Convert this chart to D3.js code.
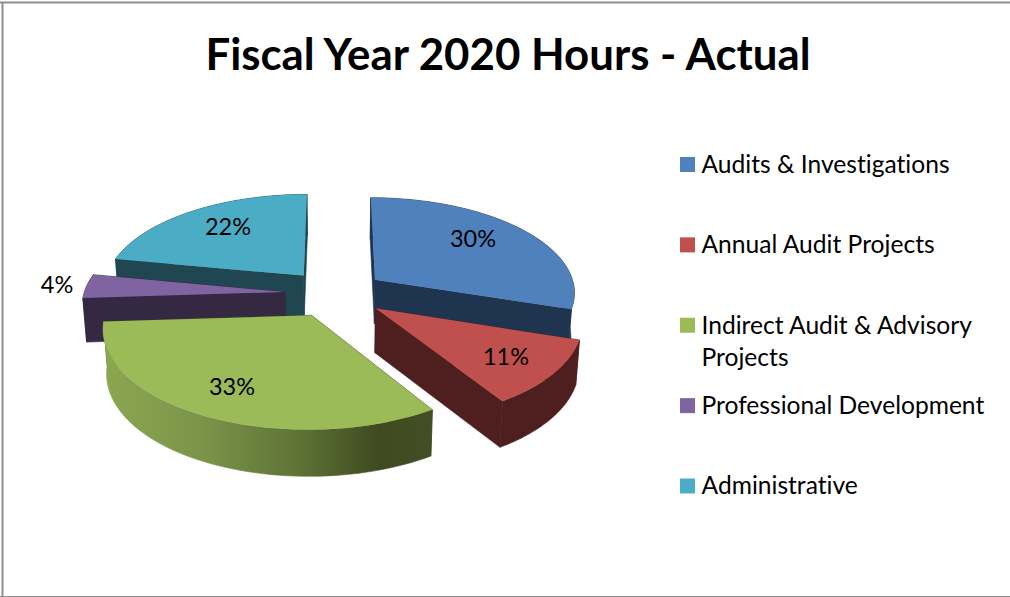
<!DOCTYPE html>
<html>
<head>
<meta charset="utf-8">
<script src="https://cdn.jsdelivr.net/npm/d3@7"></script>
<style>
  html, body { margin: 0; padding: 0; background: #fff; }
  svg { display: block; }
  text { font-family: Lato, "Open Sans", sans-serif; fill: #000; font-variant-ligatures: none; }
</style>
</head>
<body>
<svg id="chart" width="1010" height="597"></svg>
<script>
// Fiscal year hours by activity, exploded 3-D pie
const titleText = "Fiscal Year 2020 Hours - Actual";
const categories = [
  "Audits & Investigations",
  "Annual Audit Projects",
  "Indirect Audit & Advisory Projects",
  "Professional Development",
  "Administrative"
];
const percentages = [30, 11, 33, 4, 22];
const legendLines = [
  ["Audits & Investigations"],
  ["Annual Audit Projects"],
  ["Indirect Audit & Advisory", "Projects"],
  ["Professional Development"],
  ["Administrative"]
];
const topColors = ["#4F81BD", "#C0504D", "#9BBB59", "#8064A2", "#4BACC6"];
const wallColors = ["#1F344F", "#4E1F1E", "#3F4A22", "#352842", "#1F4651"];
// Back slices are painted first so nearer ones overlap them
const paintOrder = [4, 3, 0, 1, 2];
// Percentage label anchors, in page pixels
const labelAnchors = [[473, 239], [506, 357], [232, 387], [57, 285], [228, 227]];

const W = 1010, H = 597;
const svg = d3.select("#chart");

// Perspective model of the pie plane
const cx = 335, cy = 293.5, radiusX = 201, radiusY = 95, perspective = 0.12, explode = 0.25;
const dropScale = 0.985;
const scaleAt = v => 1 / (1 - perspective * v);
const topPoint = (u, v) => [cx + radiusX * u * scaleAt(v), cy + radiusY * v * scaleAt(v)];
const bottomPoint = (u, v) => {
  const [x, y] = topPoint(u, v);
  return [cx + (x - cx) * dropScale, y + 44 + 2.2 * v];
};

const pieLayout = d3.pie().sort(null).value(d => d)(percentages);
const line = d3.line();
const closed = pts => line(pts) + "Z";

// Horizontal shading along the curved wall of the large front slice
const defs = svg.append("defs");
const grad = defs.append("linearGradient")
  .attr("id", "frontWall").attr("gradientUnits", "userSpaceOnUse")
  .attr("x1", 103).attr("x2", 432).attr("y1", 0).attr("y2", 0);
[[0, "#8CA751"], [0.3, "#7A9549"], [0.6, "#5E7236"], [0.84, "#3F4A20"], [1, "#434E24"]]
  .forEach(([o, c]) => grad.append("stop").attr("offset", o).attr("stop-color", c));

// Chart frame: top, left and bottom rules only
svg.append("g").attr("stroke", "#8E8E8E").selectAll("line")
  .data([[0, 2.5, W, 2.5, 2], [2.5, 2, 2.5, H, 2], [0, 596.5, W, 596.5, 1]])
  .join("line")
  .attr("x1", d => d[0]).attr("y1", d => d[1])
  .attr("x2", d => d[2]).attr("y2", d => d[3])
  .attr("stroke-width", d => d[4]);

// Title
svg.append("text")
  .attr("x", 508).attr("y", 70)
  .attr("text-anchor", "middle")
  .attr("font-size", 43.8).attr("font-weight", 700)
  .text(titleText);

// Slices
const slices = svg.append("g");
paintOrder.forEach(i => {
  const d = pieLayout[i];
  const mid = (d.startAngle + d.endAngle) / 2;
  const ou = explode * Math.sin(mid), ov = -explode * Math.cos(mid);
  const steps = d3.range(0, 61).map(k => d.startAngle + (d.endAngle - d.startAngle) * k / 60);
  const rim = steps.map(t => [ou + Math.sin(t), ov - Math.cos(t)]);
  const apex = [ou, ov];
  const toTop = p => topPoint(p[0], p[1]);
  const toBottom = p => bottomPoint(p[0], p[1]);

  const g = slices.append("g");
  [rim[0], rim[rim.length - 1]].forEach(edge => {
    g.append("path")
      .attr("d", closed([toTop(apex), toTop(edge), toBottom(edge), toBottom(apex)]))
      .attr("fill", wallColors[i])
      .attr("stroke", wallColors[i]).attr("stroke-width", 0.6);
  });
  const wallFill = i === 2 ? "url(#frontWall)" : wallColors[i];
  g.append("path")
    .attr("d", closed(rim.map(toTop).concat(rim.map(toBottom).reverse())))
    .attr("fill", wallFill)
    .attr("stroke", wallFill).attr("stroke-width", 0.6);
  g.append("path")
    .attr("d", closed([toTop(apex)].concat(rim.map(toTop))))
    .attr("fill", topColors[i]);
});

// Percentage labels
svg.append("g").selectAll("text")
  .data(percentages)
  .join("text")
  .attr("x", (d, i) => labelAnchors[i][0])
  .attr("y", (d, i) => labelAnchors[i][1] + 8)
  .attr("text-anchor", "middle")
  .attr("font-size", 23.5)
  .text(d => d + "%");

// Legend
const legendY = d3.scalePoint().domain(categories).range([164.5, 486]);
const legend = svg.append("g").selectAll("g")
  .data(categories)
  .join("g")
  .attr("transform", d => `translate(680,${legendY(d)})`);
legend.append("rect")
  .attr("x", 0).attr("y", -7.5).attr("width", 15).attr("height", 15)
  .attr("fill", (d, i) => topColors[i]);
legend.each(function (d, i) {
  const item = d3.select(this);
  legendLines[i].forEach((t, j) => {
    item.append("text")
      .attr("x", 21.5).attr("y", 8.3 + j * 32)
      .attr("font-size", 24.6)
      .text(t);
  });
});
</script>
</body>
</html>
